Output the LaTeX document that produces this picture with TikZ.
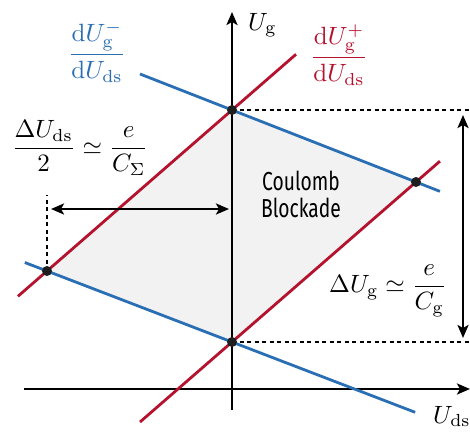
\documentclass[tikz,border=0pt]{standalone}
\usepackage{amsmath}
\usepackage{graphicx}
\usepackage{fontspec}
\newfontfamily\cbfont[FakeStretch=0.74]{Fira Sans}
\usetikzlibrary{arrows.meta,calc}
\definecolor{lblue}{RGB}{42,110,180}
\definecolor{lred}{RGB}{181,18,45}
\definecolor{lfill}{RGB}{242,242,242}
\newcommand{\lblmath}[1]{\scalebox{2.5}{$#1$}}
\tikzset{
  axis/.style={line width=2.6pt,-{Stealth[length=13pt,width=11pt,inset=3pt]}},
  dimarrow/.style={line width=2.4pt,{Stealth[length=13pt,width=11pt,inset=3pt]}-{Stealth[length=13pt,width=11pt,inset=3pt]}},
  bline/.style={lblue,line width=2.8pt},
  rline/.style={lred,line width=2.8pt},
  guide/.style={line width=1.8pt,dash pattern=on 4pt off 3.5pt},
  dot/.style={circle,fill=black!88,inner sep=0pt,minimum size=10pt},
  mathlbl/.style={inner sep=0pt},
}
\begin{document}
\begin{tikzpicture}[x=1pt,y=-1pt]
\useasboundingbox (0,0) rectangle (470,432);
\coordinate (T) at (232,110);
\coordinate (B) at (232,342);
\coordinate (R) at (416,182);
\coordinate (L) at (47,271);
% fill
\fill[lfill] (T) -- (R) -- (B) -- (L) -- cycle;
% guides
\coordinate (TE) at (472,110);
\coordinate (BE) at (472,342);
\coordinate (LU) at (47,195);
\draw[guide] (T) -- (TE);
\draw[guide] (B) -- (BE);
\draw[guide] (L) -- (LU);
% axes
\coordinate (XA) at (24,389);
\coordinate (XB) at (470,389);
\coordinate (YA) at (232,410);
\coordinate (YB) at (232,12);
\draw[axis] (XA) -- (XB);
\draw[axis] (YA) -- (YB);
% lines
\draw[bline] ($(T)!-0.5!(R)$) -- ($(T)!1.13!(R)$);
\draw[bline] ($(L)!-0.12!(B)$) -- ($(L)!1.99!(B)$);
\draw[rline] ($(L)!-0.157!(T)$) -- ($(L)!1.346!(T)$);
\draw[rline] ($(B)!-0.5!(R)$) -- ($(B)!1.13!(R)$);
% dimension arrows
\coordinate (HA) at (51,209);
\coordinate (HB) at (229,209);
\coordinate (VA) at (463,115);
\coordinate (VB) at (463,338);
\draw[dimarrow] (HA) -- (HB);
\draw[dimarrow] (VA) -- (VB);
% dots
\node[dot] (dT) at (T) {};
\node[dot] (dB) at (B) {};
\node[dot] (dR) at (R) {};
\node[dot] (dL) at (L) {};
% labels
\node[mathlbl,anchor=base west] (ug) at (248,30) {\lblmath{U_{\mathrm{g}}}};
\node[mathlbl,anchor=base west] (uds) at (433,423) {\lblmath{U_{\mathrm{ds}}}};
\node[mathlbl,text=lblue] (bl) at (97,52) {\lblmath{\dfrac{\mathrm{d}U_{\mathrm{g}}^-}{\mathrm{d}U_{\mathrm{ds}}}}};
\node[mathlbl,text=lred] (rl) at (339,55) {\lblmath{\dfrac{\mathrm{d}U_{\mathrm{g}}^+}{\mathrm{d}U_{\mathrm{ds}}}}};
\node[mathlbl] (dds) at (80,148) {\lblmath{\dfrac{\Delta U_{\mathrm{ds}}}{2}\simeq\dfrac{e}{C_\Sigma}}};
\node[mathlbl] (dg) at (388,291) {\lblmath{\Delta U_{\mathrm{g}}\simeq\dfrac{e}{C_{\mathrm{g}}}}};
\node[font=\cbfont\fontsize{26}{27}\selectfont,align=center,inner sep=0pt] (cb) at (301,194) {Coulomb\\Blockade};
\end{tikzpicture}
\end{document}
